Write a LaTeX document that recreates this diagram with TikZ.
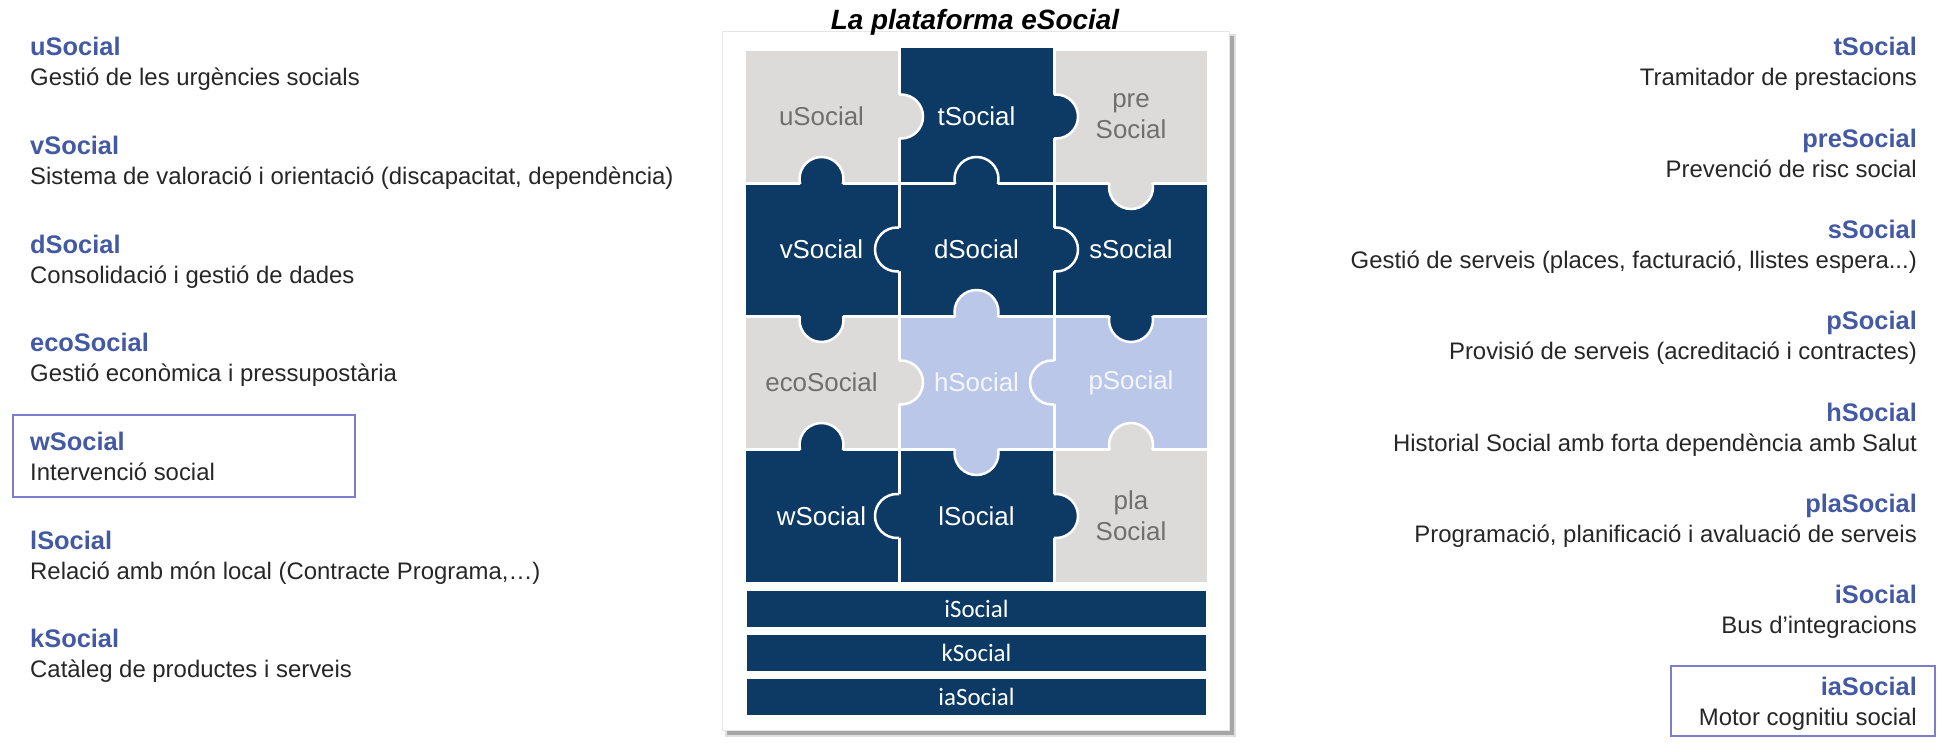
\documentclass[tikz,border=0pt]{standalone}
\usepackage{fontspec}
\setmainfont{Liberation Sans}
\newfontfamily\barfont{Carlito}
\definecolor{navy}{HTML}{0D3A65}
\definecolor{pgray}{HTML}{DDDBD9}
\definecolor{lblue}{HTML}{BAC7E8}
\definecolor{headblue}{HTML}{4459A4}
\definecolor{graytext}{HTML}{6F6F6F}
\definecolor{boxline}{HTML}{7C7EC9}
\newcommand\tdots{...}
\newcommand\knob[7]{%
  \fill[#3] (#1,#2) circle[radius=22];
  \begin{scope}
    \clip (#4,#5) rectangle (#6,#7);
    \draw[white, line width=2.5] (#1,#2) circle[radius=22];
  \end{scope}}
\tikzset{
  lbl/.style={font=\fontsize{26}{30}\selectfont, align=center, inner sep=0},
  onnavy/.style={lbl, text=white},
  ongray/.style={lbl, text=graytext},
  onblue/.style={lbl, text=white, text opacity=0.85},
  head/.style={font=\fontsize{25.5}{28}\selectfont\bfseries, text=headblue, inner sep=0},
  desc/.style={font=\fontsize{24}{28}\selectfont, text=black!85, inner sep=0},
  barbox/.style={fill=navy, inner sep=0, text=white, minimum width=459bp, minimum height=36bp,
    font=\barfont\fontsize{25}{28}\selectfont},
  framebox/.style={draw=boxline, line width=1.6},
}
\begin{document}
\begin{tikzpicture}[x=1bp,y=-1bp]
\useasboundingbox (0,0) rectangle (1944,752);
% central panel with shadow
\fill[black!12] (725,34) rectangle (1236,737);
\fill[black!35] (727,36) rectangle (1234,735);
\fill[white] (722,31) rectangle (1229,730);
\draw[black!10, line width=0.8] (722,31) rectangle (1229,730);
\node[font=\fontsize{28}{32}\selectfont\bfseries\itshape, anchor=base, inner sep=0] (title) at (975,30) {La plataforma eSocial};
% cells
\def\g{1.5}
\fill[pgray] (744+\g,50+\g) rectangle (899-\g,183-\g);
\fill[navy]  (899+\g,47+\g) rectangle (1054-\g,183-\g);
\fill[pgray] (1054+\g,50+\g) rectangle (1208-\g,183-\g);
\fill[navy]  (744+\g,183+\g) rectangle (899-\g,316-\g);
\fill[navy]  (899+\g,183+\g) rectangle (1054-\g,316-\g);
\fill[navy]  (1054+\g,183+\g) rectangle (1208-\g,316-\g);
\fill[pgray] (744+\g,316+\g) rectangle (899-\g,449-\g);
\fill[lblue] (899+\g,316+\g) rectangle (1054-\g,449-\g);
\fill[lblue] (1054+\g,316+\g) rectangle (1208-\g,449-\g);
\fill[navy]  (744+\g,449+\g) rectangle (899-\g,583-\g);
\fill[navy]  (899+\g,449+\g) rectangle (1054-\g,583-\g);
\fill[pgray] (1054+\g,449+\g) rectangle (1208-\g,583-\g);
% knobs across vertical borders
\knob{901}{116.5}{pgray}{899}{50}{1054}{183}
\knob{1056}{116.5}{navy}{1054}{50}{1208}{183}
\knob{897}{249.5}{navy}{744}{183}{899}{316}
\knob{1056}{249.5}{navy}{1054}{183}{1208}{316}
\knob{901}{382.5}{pgray}{899}{316}{1054}{449}
\knob{1052}{382.5}{lblue}{899}{316}{1054}{449}
\knob{897}{516}{navy}{744}{449}{899}{583}
\knob{1056}{516}{navy}{1054}{449}{1208}{583}
% knobs across horizontal borders
\knob{821.5}{179}{navy}{744}{50}{899}{183}
\knob{976.5}{179}{navy}{899}{47}{1054}{183}
\knob{1131}{187}{pgray}{1054}{183}{1208}{316}
\knob{821.5}{320}{navy}{744}{316}{899}{449}
\knob{976.5}{312}{lblue}{899}{183}{1054}{316}
\knob{1131}{320}{navy}{1054}{316}{1208}{449}
\knob{821.5}{445}{navy}{744}{316}{899}{449}
\knob{976.5}{453}{lblue}{899}{449}{1054}{583}
\knob{1131}{445}{pgray}{1054}{316}{1208}{449}
% cell labels
\node[ongray] (cu) at (821.5,116.5) {uSocial};
\node[onnavy] (ct) at (976.5,116.5) {tSocial};
\node[ongray] (cpre) at (1131,116.5) {pre\\[1pt]Social};
\node[onnavy] (cv) at (821.5,249.5) {vSocial};
\node[onnavy] (cd) at (976.5,249.5) {dSocial};
\node[onnavy] (cs) at (1131,249.5) {sSocial};
\node[ongray] (ceco) at (821.5,382.5) {ecoSocial};
\node[onblue] (ch) at (976.5,382.5) {hSocial};
\node[onblue] (cp) at (1131,382.5) {pSocial};
\node[onnavy] (cw) at (821.5,516) {wSocial};
\node[onnavy] (cl) at (976.5,516) {lSocial};
\node[ongray] (cpla) at (1131,516) {pla\\[1pt]Social};
% bars
\node[barbox] (bi) at (976.5,609) {iSocial};
\node[barbox] (bk) at (976.5,653) {kSocial};
\node[barbox] (bia) at (976.5,697) {iaSocial};
% left column
\draw[framebox] (13,415) rectangle (355,497);
\foreach \i/\h/\d [count=\k from 0] in {
  u/uSocial/Gestió de les urgències socials,
  v/vSocial/Sistema de valoració i orientació (discapacitat{,} dependència),
  d/dSocial/Consolidació i gestió de dades,
  eco/ecoSocial/Gestió econòmica i pressupostària,
  w/wSocial/Intervenció social,
  l/lSocial/Relació amb món local (Contracte Programa{,}…),
  k/kSocial/Catàleg de productes i serveis}{
  \node[head, anchor=base west] (lh\i) at (30,56+98.6*\k) {\h};
  \node[desc, anchor=base west] (ld\i) at (30,86+98.6*\k) {\d};
}
% right column
\draw[framebox] (1671,666) rectangle (1935,736);
\foreach \i/\h/\d [count=\k from 0] in {
  t/tSocial/Tramitador de prestacions,
  pre/preSocial/Prevenció de risc social,
  s/sSocial/Gestió de serveis (places{,} facturació{,} llistes espera\tdots),
  p/pSocial/Provisió de serveis (acreditació i contractes),
  h/hSocial/Historial Social amb forta dependència amb Salut,
  pla/plaSocial/{Programació, planificació i avaluació de serveis},
  i/iSocial/Bus d’integracions,
  ia/iaSocial/Motor cognitiu social}{
  \node[head, anchor=base east] (rh\i) at (1917,56+91.3*\k) {\h};
  \node[desc, anchor=base east] (rd\i) at (1917,86+91.3*\k) {\d};
}
\end{tikzpicture}
\end{document}
